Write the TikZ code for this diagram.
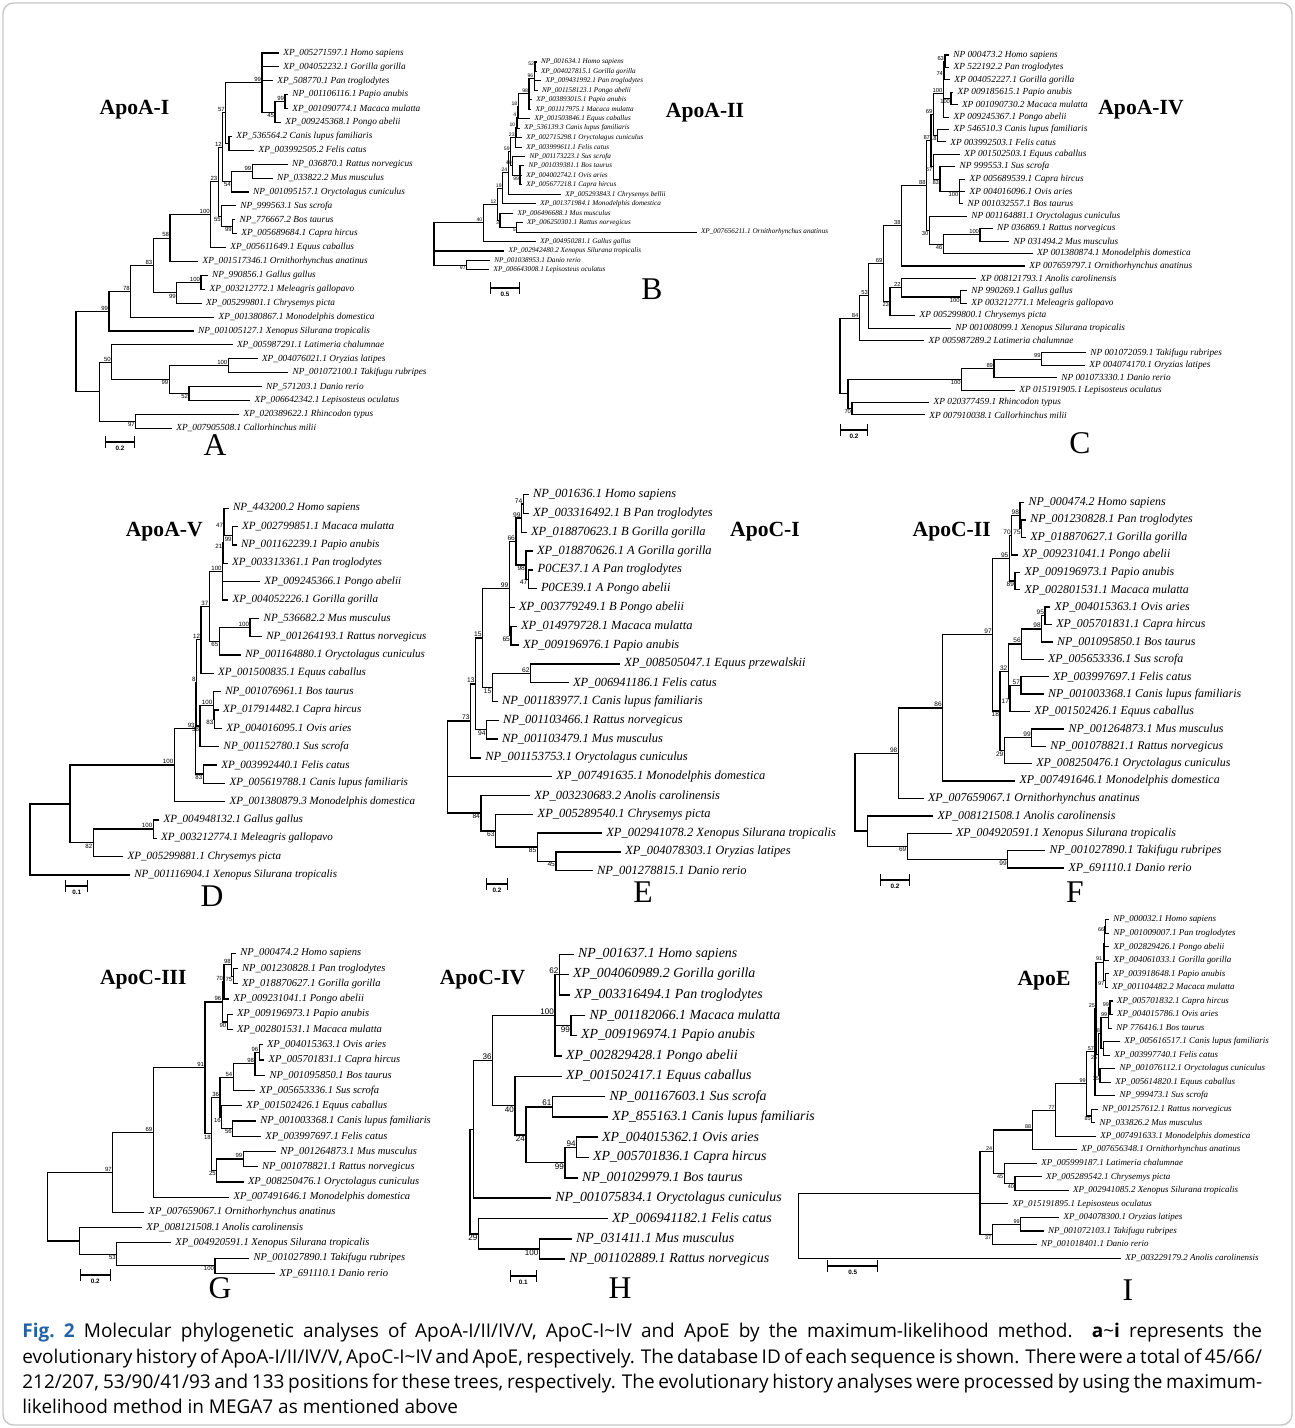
\documentclass[tikz,border=0pt]{standalone}
\usepackage{fontspec}
\setmainfont{Liberation Serif}
\setsansfont{Liberation Sans}
\newfontfamily\capfont{Open Sans}
\usetikzlibrary{calc}
\definecolor{figblue}{RGB}{35,98,165}

\tikzset{
  br/.style={line width=0.6pt},
  lab/.style={anchor=west, inner sep=0pt, font=\itshape},
  bs/.style={inner sep=0.4pt, font=\sffamily},
  ba/.style={anchor=south east},
  bb/.style={anchor=north east},
  ttl/.style={font=\fontsize{12.3}{14}\selectfont\bfseries},
  panel/.style={anchor=north, inner sep=0pt, font=\fontsize{18}{20}\selectfont},
  sb/.style={|-|, line width=0.6pt},
  sbl/.style={anchor=north, inner sep=0pt, yshift=-2pt, font=\fontsize{3.6}{4}\selectfont\sffamily\bfseries}
}

% leaf: name, text x, row, label
\newcommand\taxon[4]{%
  \coordinate (#1) at ({#2-4},{\yz+#3*\dy});
  \node[lab] (#1Tx) at ({#2},{\yz+#3*\dy}) {#4};}
% clade: name, x, first child, last child, bootstrap, label side
\newcommand\clade[6]{%
  \path (#3) -- (#4) coordinate[pos=0.5] (#1Mc);
  \coordinate (#1Xc) at (#2,0);
  \coordinate (#1) at (#1Xc |- #1Mc);
  \draw[br] (#3) -| (#1) |- (#4);
  \node[bs,#6] (#1Lb) at (#1) {#5};}
\newcommand\cladeadd[2]{\draw[br] (#1) |- (#2);}
\newcommand\scalebar[5]{%
  \coordinate (#1a) at (#2,#4);
  \coordinate (#1c) at (#3,#4);
  \draw[sb] (#1a) -- (#1c);
  \node[sbl] (#1t) at ($(#1a)!.5!(#1c)$) {#5};}

\begin{document}
\begin{tikzpicture}[x=0.02cm,y=-0.02cm]
\useasboundingbox (0,0) rectangle (1295,1428);
\draw[gray!45, line width=0.8pt, rounded corners=6pt] (3,3) rectangle (1292,1425);

%% A: ApoA-I
\begin{scope}[lab/.append style={font=\fontsize{5.3}{6}\selectfont\itshape},
  bs/.append style={font=\fontsize{3.4}{4}\selectfont\sffamily}]
\def\yz{53}\def\dy{13.9}
\taxon{aHomo}{283}{0}{XP\_005271597.1 Homo sapiens}
\taxon{aGor}{283}{1}{XP\_004052232.1 Gorilla gorilla}
\taxon{aPan}{277}{2}{XP\_508770.1 Pan troglodytes}
\taxon{aPap}{292}{3}{NP\_001106116.1 Papio anubis}
\taxon{aMac}{292}{4}{XP\_001090774.1 Macaca mulatta}
\taxon{aPon}{285}{5}{XP\_009245368.1 Pongo abelii}
\taxon{aCan}{236}{6}{XP\_536564.2 Canis lupus familiaris}
\taxon{aFel}{258.3}{7}{XP\_003992505.2 Felis catus}
\taxon{aRat}{291.7}{8}{NP\_036870.1 Rattus norvegicus}
\taxon{aMus}{276.7}{9}{NP\_033822.2 Mus musculus}
\taxon{aOry}{252.7}{10}{NP\_001095157.1 Oryctolagus cuniculus}
\taxon{aSus}{240}{11}{NP\_999563.1 Sus scrofa}
\taxon{aBos}{239.3}{12}{NP\_776667.2 Bos taurus}
\taxon{aCap}{241}{13}{XP\_005689684.1 Capra hircus}
\taxon{aEqu}{230}{14}{XP\_005611649.1 Equus caballus}
\taxon{aOrn}{202.3}{15}{XP\_001517346.1 Ornithorhynchus anatinus}
\taxon{aGal}{211.7}{16}{NP\_990856.1 Gallus gallus}
\taxon{aMel}{209.3}{17}{XP\_003212772.1 Meleagris gallopavo}
\taxon{aChr}{205.7}{18}{XP\_005299801.1 Chrysemys picta}
\taxon{aMon}{218.3}{19}{XP\_001380867.1 Monodelphis domestica}
\taxon{aXen}{197.7}{20}{NP\_001005127.1 Xenopus Silurana tropicalis}
\taxon{aLat}{236.7}{21}{XP\_005987291.1 Latimeria chalumnae}
\taxon{aOzl}{261.7}{22}{XP\_004076021.1 Oryzias latipes}
\taxon{aTak}{292.3}{23}{NP\_001072100.1 Takifugu rubripes}
\taxon{aDan}{265.7}{24}{NP\_571203.1 Danio rerio}
\taxon{aLep}{254.3}{25}{XP\_006642342.1 Lepisosteus oculatus}
\taxon{aRhi}{243.3}{26}{XP\_020389622.1 Rhincodon typus}
\taxon{aCal}{176}{27}{XP\_007905508.1 Callorhinchus milii}
\clade{aPM}{285}{aPap}{aMac}{99}{ba}
\clade{a45}{275}{aPM}{aPon}{45}{bb}
\clade{a99p}{262}{aHomo}{a45}{99}{ba}
\cladeadd{a99p}{aGor}\cladeadd{a99p}{aPan}
\clade{aCF}{229}{aCan}{aFel}{}{ba}
\clade{a57}{225.7}{a99p}{aCF}{57}{ba}
\clade{a99r}{252.3}{aRat}{aMus}{99}{ba}
\clade{a54}{231.7}{a99r}{aOry}{54}{bb}
\clade{a12}{222.7}{a57}{a54}{12}{ba}
\clade{a99b}{232.7}{aBos}{aCap}{99}{bb}
\clade{a55}{221.7}{aSus}{a99b}{55}{bb}
\clade{a23}{218.3}{a12}{a55}{23}{ba}
\clade{a100}{210.7}{a23}{aEqu}{100}{ba}
\clade{a58}{170}{a100}{aOrn}{58}{ba}
\clade{a100g}{201}{aGal}{aMel}{100}{ba}
\clade{a99g}{176.7}{a100g}{aChr}{99}{bb}
\clade{a83}{153.3}{a58}{a99g}{83}{ba}
\clade{a78}{130.7}{a83}{aMon}{78}{ba}
\clade{a99u}{109}{a78}{aXen}{99}{ba}
\clade{a100f}{228.3}{aOzl}{aTak}{100}{ba}
\clade{a52}{189}{aDan}{aLep}{52}{bb}
\clade{aFish}{169.3}{a100f}{a52}{99}{bb}
\clade{a50}{111.7}{aLat}{aFish}{50}{ba}
\clade{a97}{135.7}{aRhi}{aCal}{97}{bb}
\clade{aLow}{99.3}{a50}{a97}{}{ba}
\clade{aRoot}{76}{a99u}{aLow}{}{ba}
\end{scope}
\node[ttl] (aTitle) at (134.5,110) {ApoA-I};
\scalebar{aBar}{105}{135}{442}{0.2}
\node[panel] (aPanel) at (215,434) {A};

%% B: ApoA-II
\begin{scope}[lab/.append style={font=\fontsize{4.1}{5}\selectfont\itshape},
  bs/.append style={font=\fontsize{2.9}{3.5}\selectfont\sffamily}]
\def\yz{62}\def\dy{9.45}
\taxon{bHomo}{540.7}{0}{NP\_001634.1 Homo sapiens}
\taxon{bGor}{540.7}{1}{XP\_004027815.1 Gorilla gorilla}
\taxon{bPan}{545.3}{2}{XP\_009431992.1 Pan troglodytes}
\taxon{bPon}{541.7}{3}{NP\_001158123.1 Pongo abelii}
\taxon{bPap}{536}{4}{XP\_003893015.1 Papio anubis}
\taxon{bMac}{535.3}{5}{XP\_001117975.1 Macaca mulatta}
\taxon{bEqu}{534.3}{6}{XP\_001503846.1 Equus caballus}
\taxon{bCan}{524}{7}{XP\_536139.3 Canis lupus familiaris}
\taxon{bOry}{526}{8}{XP\_002715298.1 Oryctolagus cuniculus}
\taxon{bFel}{526}{9}{XP\_003999611.1 Felis catus}
\taxon{bSus}{529.3}{10}{NP\_001173223.1 Sus scrofa}
\taxon{bBos}{528.3}{11}{NP\_001039381.1 Bos taurus}
\taxon{bOvi}{526}{12}{XP\_004002742.1 Ovis aries}
\taxon{bCap}{526}{13}{XP\_005677218.1 Capra hircus}
\taxon{bChr}{565}{14}{XP\_005293843.1 Chrysemys bellii}
\taxon{bMon}{540}{15}{XP\_001371984.1 Monodelphis domestica}
\taxon{bMus}{517.3}{16}{XP\_006496688.1 Mus musculus}
\taxon{bRat}{526.7}{17}{XP\_006250301.1 Rattus norvegicus}
\taxon{bOrn}{700.7}{18}{XP\_007656211.1 Ornithorhynchus anatinus}
\taxon{bGal}{540}{19}{XP\_004950281.1 Gallus gallus}
\taxon{bXen}{508.3}{20}{XP\_002942480.2 Xenopus Silurana tropicalis}
\taxon{bDan}{494}{21}{NP\_001038953.1 Danio rerio}
\taxon{bLep}{493.3}{22}{XP\_006643008.1 Lepisosteus oculatus}
\clade{b52}{535}{bHomo}{bGor}{52}{ba}
\clade{b96}{534.3}{b52}{bPon}{96}{ba}
\cladeadd{b96}{bPan}
\clade{b98}{529}{b96}{bMac}{98}{ba}
\cladeadd{b98}{bPap}
\clade{b18}{518.3}{b98}{bEqu}{18}{ba}
\clade{b4}{517.3}{b18}{bCan}{4}{ba}
\clade{b10}{516.3}{b4}{bOry}{10}{ba}
\clade{b23}{515.7}{b10}{bFel}{23}{ba}
\clade{b99}{520}{bBos}{bCap}{99}{bb}
\cladeadd{b99}{bOvi}
\clade{b40b}{512.7}{bSus}{b99}{40}{ba}
\clade{b59}{510.7}{b23}{b40b}{59}{ba}
\clade{b24}{508.3}{b59}{bChr}{24}{ba}
\clade{b19}{502.7}{b24}{bMon}{19}{ba}
\clade{b5}{516.7}{bRat}{bOrn}{5}{bb}
\clade{b3}{500}{bMus}{b5}{3}{bb}
\clade{b12}{497.3}{b19}{b3}{12}{ba}
\clade{b40}{483.3}{b12}{bGal}{40}{ba}
\clade{b97}{466.7}{bDan}{bLep}{97}{bb}
\clade{bRoot}{434}{b40}{b97}{}{ba}
\cladeadd{bRoot}{bXen}
\end{scope}
\node[ttl] (bTitle) at (705,113) {ApoA-II};
\scalebar{bBar}{490}{520}{288}{0.5}
\node[panel] (bPanel) at (652,278) {B};

%% C: ApoA-IV
\begin{scope}[lab/.append style={font=\fontsize{5.3}{6}\selectfont\itshape},
  bs/.append style={font=\fontsize{3.3}{4}\selectfont\sffamily}]
\def\yz{55}\def\dy{12.41}
\taxon{cHomo}{953}{0}{NP 000473.2 Homo sapiens}
\taxon{cPan}{953.3}{1}{XP 522192.2 Pan troglodytes}
\taxon{cGor}{954}{2}{XP 004052227.1 Gorilla gorilla}
\taxon{cPap}{957.3}{3}{XP 009185615.1 Papio anubis}
\taxon{cMac}{961.7}{4}{XP 001090730.2 Macaca mulatta}
\taxon{cPon}{953.3}{5}{XP 009245367.1 Pongo abelii}
\taxon{cCan}{953.3}{6}{XP 546510.3 Canis lupus familiaris}
\taxon{cFel}{950}{7}{XP 003992503.1 Felis catus}
\taxon{cEqu}{964}{8}{XP 001502503.1 Equus caballus}
\taxon{cSus}{959.3}{9}{NP 999553.1 Sus scrofa}
\taxon{cCap}{969.3}{10}{XP 005689539.1 Capra hircus}
\taxon{cOvi}{969.3}{11}{XP 004016096.1 Ovis aries}
\taxon{cBos}{967.3}{12}{NP 001032557.1 Bos taurus}
\taxon{cOry}{971}{13}{NP 001164881.1 Oryctolagus cuniculus}
\taxon{cRat}{996.7}{14}{NP 036869.1 Rattus norvegicus}
\taxon{cMus}{1013.3}{15}{NP 031494.2 Mus musculus}
\taxon{cMon}{1036.7}{16}{XP 001380874.1 Monodelphis domestica}
\taxon{cOrn}{1029}{17}{XP 007659797.1 Ornithorhynchus anatinus}
\taxon{cAno}{980}{18}{XP 008121793.1 Anolis carolinensis}
\taxon{cGal}{971}{19}{NP 990269.1 Gallus gallus}
\taxon{cMel}{971}{20}{XP 003212771.1 Meleagris gallopavo}
\taxon{cChr}{919.3}{21}{XP 005299800.1 Chrysemys picta}
\taxon{cXen}{955}{22}{NP 001008099.1 Xenopus Silurana tropicalis}
\taxon{cLat}{928.3}{23}{XP 005987289.2 Latimeria chalumnae}
\taxon{cTak}{1090}{24}{NP 001072059.1 Takifugu rubripes}
\taxon{cOzl}{1089}{25}{XP 004074170.1 Oryzias latipes}
\taxon{cDan}{1061}{26}{NP 001073330.1 Danio rerio}
\taxon{cLep}{1019}{27}{XP 015191905.1 Lepisosteus oculatus}
\taxon{cRhi}{933.3}{28}{XP 020377459.1 Rhincodon typus}
\taxon{cCal}{929}{29}{XP 007910038.1 Callorhinchus milii}
\clade{c63}{945}{cHomo}{cPan}{63}{ba}
\clade{c74}{944}{c63}{cGor}{74}{bb}
\clade{c100pm}{951}{cPap}{cMac}{100}{bb}
\clade{c100p}{943.3}{c74}{cPon}{100}{ba}
\cladeadd{c100p}{c100pm}
\clade{cCF}{937.7}{cCan}{cFel}{18}{bb}
\clade{c69}{933.3}{c100p}{cCF}{69}{ba}
\clade{c100c}{959.3}{cCap}{cBos}{100}{bb}
\cladeadd{c100c}{cOvi}
\clade{c83}{940}{cSus}{c100c}{83}{bb}
\clade{c57}{933.3}{cEqu}{c83}{57}{bb}
\clade{c87}{931}{c69}{c57}{87}{ba}
\clade{c100r}{980}{cRat}{cMus}{100}{ba}
\clade{c46}{943.3}{c100r}{cMon}{46}{bb}
\clade{c30}{929.3}{cOry}{c46}{30}{bb}
\clade{c88}{926.7}{c87}{c30}{88}{ba}
\clade{c38}{901.7}{c88}{cOrn}{38}{ba}
\clade{c100g}{960.7}{cGal}{cMel}{100}{bb}
\clade{c22}{901.7}{cAno}{c100g}{22}{ba}
\clade{c23}{890}{c22}{cChr}{23}{bb}
\clade{c69b}{883.3}{c38}{c23}{69}{ba}
\clade{c53}{868.9}{c69b}{cXen}{53}{ba}
\clade{c84}{859.3}{c53}{cLat}{84}{ba}
\clade{c99}{1041.7}{cTak}{cOzl}{99}{ba}
\clade{c89}{994}{c99}{cDan}{89}{ba}
\clade{c100f}{961.7}{c89}{cLep}{100}{bb}
\clade{c70}{852}{cRhi}{cCal}{70}{bb}
\clade{cBot}{848}{c100f}{c70}{}{ba}
\clade{cRoot}{840}{c84}{cBot}{}{ba}
\end{scope}
\node[ttl] (cTitle) at (1141,110) {ApoA-IV};
\scalebar{cBar}{840}{868}{430}{0.2}
\node[panel] (cPanel) at (1080,432) {C};

%% D: ApoA-V
\begin{scope}[br/.append style={line width=0.7pt},
  lab/.append style={font=\fontsize{6.3}{7}\selectfont\itshape},
  bs/.append style={font=\fontsize{3.5}{4}\selectfont\sffamily}]
\def\yz{508.3}\def\dy{18.33}
\taxon{dHomo}{232.7}{0}{NP\_443200.2 Homo sapiens}
\taxon{dMac}{241.7}{1}{XP\_002799851.1 Macaca mulatta}
\taxon{dPap}{240.7}{2}{NP\_001162239.1 Papio anubis}
\taxon{dPan}{231.7}{3}{XP\_003313361.1 Pan troglodytes}
\taxon{dPon}{264}{4}{XP\_009245366.1 Pongo abelii}
\taxon{dGor}{232.3}{5}{XP\_004052226.1 Gorilla gorilla}
\taxon{dMus}{263.3}{6}{NP\_536682.2 Mus musculus}
\taxon{dRat}{266}{7}{NP\_001264193.1 Rattus norvegicus}
\taxon{dOry}{245}{8}{NP\_001164880.1 Oryctolagus cuniculus}
\taxon{dEqu}{217.7}{9}{XP\_001500835.1 Equus caballus}
\taxon{dBos}{225}{10}{NP\_001076961.1 Bos taurus}
\taxon{dCap}{222.7}{11}{XP\_017914482.1 Capra hircus}
\taxon{dOvi}{226}{12}{XP\_004016095.1 Ovis aries}
\taxon{dSus}{223.3}{13}{NP\_001152780.1 Sus scrofa}
\taxon{dFel}{221}{14}{XP\_003992440.1 Felis catus}
\taxon{dCan}{229.3}{15}{XP\_005619788.1 Canis lupus familiaris}
\taxon{dMon}{229.3}{16}{XP\_001380879.3 Monodelphis domestica}
\taxon{dGal}{163.3}{17}{XP\_004948132.1 Gallus gallus}
\taxon{dMel}{160.7}{18}{XP\_003212774.1 Meleagris gallopavo}
\taxon{dChr}{127.3}{19}{XP\_005299881.1 Chrysemys picta}
\taxon{dXen}{134}{20}{NP\_001116904.1 Xenopus Silurana tropicalis}
\clade{dMP}{232.7}{dMac}{dPap}{99}{bb}
\clade{d47}{224}{dHomo}{dMP}{47}{bb}
\clade{d21}{223.3}{d47}{dPan}{21}{bb}
\clade{d100}{222.7}{d21}{dGor}{100}{ba}
\cladeadd{d100}{dPon}
\clade{d100m}{250}{dMus}{dRat}{100}{ba}
\clade{d65}{219.3}{d100m}{dOry}{65}{bb}
\clade{d37}{209.3}{d100}{d65}{37}{ba}
\clade{d12}{201}{d37}{dEqu}{12}{ba}
\clade{d83}{214.3}{dCap}{dOvi}{83}{bb}
\clade{d100b}{213.3}{dBos}{d83}{100}{ba}
\clade{d38}{200}{d100b}{dSus}{38}{bb}
\clade{d8}{196.7}{d12}{d38}{8}{ba}
\clade{d83f}{203.3}{dFel}{dCan}{83}{bb}
\clade{d93}{195.7}{d8}{d83f}{93}{ba}
\clade{d100d}{174.3}{d93}{dMon}{100}{ba}
\clade{d100g}{153.3}{dGal}{dMel}{100}{ba}
\clade{d82}{93.3}{d100g}{dChr}{82}{bb}
\clade{dMid}{70}{d100d}{d82}{}{ba}
\clade{dRoot}{30}{dMid}{dXen}{}{ba}
\end{scope}
\node[ttl] (dTitle) at (164.3,531.7) {ApoA-V};
\scalebar{dBar}{65}{88.3}{886}{0.1}
\node[panel] (dPanel) at (212,885) {D};

%% E: ApoC-I
\begin{scope}[br/.append style={line width=0.85pt},
  lab/.append style={font=\fontsize{7.1}{8}\selectfont\itshape},
  bs/.append style={font=\fontsize{3.8}{4.5}\selectfont\sffamily}]
\def\yz{494.7}\def\dy{18.8}
\taxon{eHomo}{532.7}{0}{NP\_001636.1 Homo sapiens}
\taxon{ePanB}{532.7}{1}{XP\_003316492.1 B Pan troglodytes}
\taxon{eGorB}{530.7}{2}{XP\_018870623.1 B Gorilla gorilla}
\taxon{eGorA}{536.7}{3}{XP\_018870626.1 A Gorilla gorilla}
\taxon{ePanA}{537.3}{4}{P0CE37.1 A Pan troglodytes}
\taxon{ePonA}{540.7}{5}{P0CE39.1 A Pongo abelii}
\taxon{ePonB}{518.7}{6}{XP\_003779249.1 B Pongo abelii}
\taxon{eMac}{520.7}{7}{XP\_014979728.1 Macaca mulatta}
\taxon{ePap}{522.7}{8}{XP\_009196976.1 Papio anubis}
\taxon{eEqu}{624}{9}{XP\_008505047.1 Equus przewalskii}
\taxon{eFel}{572.7}{10}{XP\_006941186.1 Felis catus}
\taxon{eCan}{501.7}{11}{NP\_001183977.1 Canis lupus familiaris}
\taxon{eRat}{502.7}{12}{NP\_001103466.1 Rattus norvegicus}
\taxon{eMus}{501.7}{13}{NP\_001103479.1 Mus musculus}
\taxon{eOry}{485}{14}{NP\_001153753.1 Oryctolagus cuniculus}
\taxon{eMon}{556}{15}{XP\_007491635.1 Monodelphis domestica}
\taxon{eAno}{534}{16}{XP\_003230683.2 Anolis carolinensis}
\taxon{eChr}{537.3}{17}{XP\_005289540.1 Chrysemys picta}
\taxon{eXen}{606}{18}{XP\_002941078.2 Xenopus Silurana tropicalis}
\taxon{eOzl}{625}{19}{XP\_004078303.1 Oryzias latipes}
\taxon{eDan}{596.7}{20}{NP\_001278815.1 Danio rerio}
\clade{e74}{523.3}{eHomo}{ePanB}{74}{ba}
\clade{e99}{521.7}{e74}{eGorB}{99}{ba}
\clade{e47}{528.3}{ePanA}{ePonA}{47}{bb}
\clade{e98}{526}{eGorA}{e47}{98}{bb}
\clade{e66}{516}{e99}{e98}{66}{ba}
\clade{e65}{511}{eMac}{ePap}{65}{bb}
\clade{e99b}{509.3}{e66}{e65}{99}{ba}
\cladeadd{e99b}{ePonB}
\clade{e62}{530.7}{eEqu}{eFel}{62}{ba}
\clade{e15b}{492.3}{e62}{eCan}{15}{bb}
\clade{e15}{482.7}{e99b}{e15b}{15}{ba}
\clade{e94}{486.7}{eRat}{eMus}{94}{bb}
\clade{e13}{475.7}{e15}{e94}{13}{ba}
\clade{e73}{470.7}{e13}{eOry}{73}{ba}
\clade{e45}{556}{eOzl}{eDan}{45}{bb}
\clade{e85}{537.3}{eXen}{e45}{85}{bb}
\clade{e63}{495.7}{eChr}{e85}{63}{bb}
\clade{e84}{481}{eAno}{e63}{84}{bb}
\clade{eRoot}{447.3}{e73}{e84}{}{ba}
\cladeadd{eRoot}{eMon}
\end{scope}
\node[ttl] (eTitle) at (765,531.7) {ApoC-I};
\scalebar{eBar}{486}{508}{884}{0.2}
\node[panel] (ePanel) at (643,881) {E};

%% F: ApoC-II
\begin{scope}[br/.append style={line width=0.75pt},
  lab/.append style={font=\fontsize{6.8}{8}\selectfont\itshape},
  bs/.append style={font=\fontsize{3.7}{4.5}\selectfont\sffamily}]
\def\yz{502.7}\def\dy{17.4}
\taxon{fHomo}{1028.3}{0}{NP\_000474.2 Homo sapiens}
\taxon{fPan}{1030}{1}{NP\_001230828.1 Pan troglodytes}
\taxon{fGor}{1030}{2}{XP\_018870627.1 Gorilla gorilla}
\taxon{fPon}{1022.3}{3}{XP\_009231041.1 Pongo abelii}
\taxon{fPap}{1024.3}{4}{XP\_009196973.1 Papio anubis}
\taxon{fMac}{1024.3}{5}{XP\_002801531.1 Macaca mulatta}
\taxon{fOvi}{1054.3}{6}{XP\_004015363.1 Ovis aries}
\taxon{fCap}{1056}{7}{XP\_005701831.1 Capra hircus}
\taxon{fBos}{1056.7}{8}{NP\_001095850.1 Bos taurus}
\taxon{fSus}{1047.7}{9}{XP\_005653336.1 Sus scrofa}
\taxon{fFel}{1052.7}{10}{XP\_003997697.1 Felis catus}
\taxon{fCan}{1047.7}{11}{NP\_001003368.1 Canis lupus familiaris}
\taxon{fEqu}{1034}{12}{XP\_001502426.1 Equus caballus}
\taxon{fMus}{1068.3}{13}{NP\_001264873.1 Mus musculus}
\taxon{fRat}{1050}{14}{NP\_001078821.1 Rattus norvegicus}
\taxon{fOry}{1036}{15}{XP\_008250476.1 Oryctolagus cuniculus}
\taxon{fMon}{1019.3}{16}{XP\_007491646.1 Monodelphis domestica}
\taxon{fOrn}{927.7}{17}{XP\_007659067.1 Ornithorhynchus anatinus}
\taxon{fAno}{937.3}{18}{XP\_008121508.1 Anolis carolinensis}
\taxon{fXen}{955.7}{19}{XP\_004920591.1 Xenopus Silurana tropicalis}
\taxon{fTak}{1049.3}{20}{NP\_001027890.1 Takifugu rubripes}
\taxon{fDan}{1068.3}{21}{XP\_691110.1 Danio rerio}
\clade{f75}{1021.7}{fPan}{fGor}{75}{bb}
\clade{f98}{1020}{fHomo}{f75}{98}{ba}
\clade{f70}{1011.7}{f98}{fPon}{70}{ba}
\clade{f89}{1015}{fPap}{fMac}{89}{bb}
\clade{f95}{1009.3}{f70}{f89}{95}{ba}
\clade{f95s}{1045}{fOvi}{fCap}{95}{ba}
\clade{f98c}{1041.7}{f95s}{fBos}{98}{ba}
\clade{f56}{1021.7}{f98c}{fSus}{56}{ba}
\clade{f57}{1021}{fFel}{fCan}{57}{ba}
\clade{f17}{1010}{f57}{fEqu}{17}{bb}
\clade{f32}{1008.3}{f56}{f17}{32}{ba}
\clade{f99}{1031.7}{fMus}{fRat}{99}{ba}
\clade{f29}{1004.3}{f99}{fOry}{29}{bb}
\clade{f18}{1000}{f32}{f29}{18}{bb}
\clade{f97}{992.7}{f95}{f18}{97}{ba}
\clade{f86}{942.7}{f97}{fMon}{86}{ba}
\clade{f98r}{898.3}{f86}{fOrn}{98}{ba}
\clade{f99f}{1007.7}{fTak}{fDan}{99}{bb}
\clade{f69}{907.3}{fXen}{f99f}{69}{bb}
\clade{fLow}{867.3}{fAno}{f69}{}{ba}
\clade{fRoot}{855}{f98r}{fLow}{}{ba}
\end{scope}
\node[ttl] (fTitle) at (951.7,531.7) {ApoC-II};
\scalebar{fBar}{880}{910}{880}{0.2}
\node[panel] (fPanel) at (1075,881) {F};

%% G: ApoC-III
\begin{scope}[br/.append style={line width=0.7pt},
  lab/.append style={font=\fontsize{6.0}{7}\selectfont\itshape},
  bs/.append style={font=\fontsize{3.4}{4}\selectfont\sffamily}]
\def\yz{953.3}\def\dy{15.24}
\taxon{gHomo}{240}{0}{NP\_000474.2 Homo sapiens}
\taxon{gPan}{241.7}{1}{NP\_001230828.1 Pan troglodytes}
\taxon{gGor}{241.7}{2}{XP\_018870627.1 Gorilla gorilla}
\taxon{gPon}{233.3}{3}{XP\_009231041.1 Pongo abelii}
\taxon{gPap}{236.7}{4}{XP\_009196973.1 Papio anubis}
\taxon{gMac}{236.7}{5}{XP\_002801531.1 Macaca mulatta}
\taxon{gOvi}{266.7}{6}{XP\_004015363.1 Ovis aries}
\taxon{gCap}{268.3}{7}{XP\_005701831.1 Capra hircus}
\taxon{gBos}{269.3}{8}{NP\_001095850.1 Bos taurus}
\taxon{gSus}{259.3}{9}{XP\_005653336.1 Sus scrofa}
\taxon{gEqu}{246}{10}{XP\_001502426.1 Equus caballus}
\taxon{gCan}{260}{11}{NP\_001003368.1 Canis lupus familiaris}
\taxon{gFel}{265}{12}{XP\_003997697.1 Felis catus}
\taxon{gMus}{280}{13}{NP\_001264873.1 Mus musculus}
\taxon{gRat}{261.7}{14}{NP\_001078821.1 Rattus norvegicus}
\taxon{gOry}{247.7}{15}{XP\_008250476.1 Oryctolagus cuniculus}
\taxon{gMon}{233.3}{16}{XP\_007491646.1 Monodelphis domestica}
\taxon{gOrn}{148.3}{17}{XP\_007659067.1 Ornithorhynchus anatinus}
\taxon{gAno}{146}{18}{XP\_008121508.1 Anolis carolinensis}
\taxon{gXen}{175}{19}{XP\_004920591.1 Xenopus Silurana tropicalis}
\taxon{gTak}{253.3}{20}{NP\_001027890.1 Takifugu rubripes}
\taxon{gDan}{279.3}{21}{XP\_691110.1 Danio rerio}
\clade{g75}{233.3}{gPan}{gGor}{75}{bb}
\clade{g98}{231.7}{gHomo}{g75}{98}{ba}
\clade{g70}{224}{g98}{gPon}{70}{ba}
\clade{g90}{227.3}{gPap}{gMac}{90}{bb}
\clade{g96}{222.3}{g70}{g90}{96}{ba}
\clade{g96s}{259.3}{gOvi}{gCap}{96}{ba}
\clade{g98c}{255}{g96s}{gBos}{98}{ba}
\clade{g54}{233.3}{g98c}{gSus}{54}{ba}
\clade{g56}{232.7}{gCan}{gFel}{56}{bb}
\clade{g16}{221.7}{gEqu}{g56}{16}{bb}
\clade{g36}{220}{g54}{g16}{36}{ba}
\clade{g99}{243.3}{gMus}{gRat}{99}{ba}
\clade{g25}{216.7}{g99}{gOry}{25}{bb}
\clade{g18}{211.7}{g36}{g25}{18}{bb}
\clade{g91}{205}{g96}{g18}{91}{ba}
\clade{g69}{153.3}{g91}{gMon}{69}{ba}
\clade{g97}{112.7}{g69}{gOrn}{97}{ba}
\clade{g100f}{215}{gTak}{gDan}{100}{bb}
\clade{g53}{116.7}{gXen}{g100f}{53}{bb}
\clade{gLow}{79.3}{gAno}{g53}{}{ba}
\clade{gRoot}{47.3}{g97}{gLow}{}{ba}
\end{scope}
\node[ttl] (gTitle) at (143.3,979.3) {ApoC-III};
\scalebar{gBar}{80}{110.7}{1275}{0.2}
\node[panel] (gPanel) at (220,1277) {G};

%% H: ApoC-IV
\begin{scope}[br/.append style={line width=0.9pt},
  lab/.append style={font=\fontsize{7.9}{9}\selectfont\itshape},
  bs/.append style={font=\fontsize{4.6}{5}\selectfont\sffamily}]
\def\yz{954.3}\def\dy{20.33}
\taxon{hHomo}{577.7}{0}{NP\_001637.1 Homo sapiens}
\taxon{hGor}{572.7}{1}{XP\_004060989.2 Gorilla gorilla}
\taxon{hPan}{574.3}{2}{XP\_003316494.1 Pan troglodytes}
\taxon{hMac}{589.3}{3}{NP\_001182066.1 Macaca mulatta}
\taxon{hPap}{580.7}{4}{XP\_009196974.1 Papio anubis}
\taxon{hPon}{565.7}{5}{XP\_002829428.1 Pongo abelii}
\taxon{hEqu}{565.7}{6}{XP\_001502417.1 Equus caballus}
\taxon{hSus}{609.3}{7}{NP\_001167603.1 Sus scrofa}
\taxon{hCan}{611.7}{8}{XP\_855163.1 Canis lupus familiaris}
\taxon{hOvi}{601.7}{9}{XP\_004015362.1 Ovis aries}
\taxon{hCap}{592.7}{10}{XP\_005701836.1 Capra hircus}
\taxon{hBos}{581.7}{11}{NP\_001029979.1 Bos taurus}
\taxon{hOry}{555}{12}{NP\_001075834.1 Oryctolagus cuniculus}
\taxon{hFel}{611.7}{13}{XP\_006941182.1 Felis catus}
\taxon{hMus}{575.7}{14}{NP\_031411.1 Mus musculus}
\taxon{hRat}{569}{15}{NP\_001102889.1 Rattus norvegicus}
\clade{h62}{559.3}{hHomo}{hPan}{62}{ba}
\cladeadd{h62}{hGor}
\clade{h99}{571}{hMac}{hPap}{99}{bb}
\clade{h100}{555}{h62}{hPon}{100}{ba}
\cladeadd{h100}{h99}
\clade{h61}{552.3}{hSus}{hCan}{61}{ba}
\clade{h94}{576.7}{hOvi}{hCap}{94}{ba}
\clade{h99b}{565}{h94}{hBos}{99}{bb}
\clade{h24}{526}{h61}{h99b}{24}{bb}
\clade{h40}{515}{hEqu}{h24}{40}{bb}
\clade{h36}{492.7}{h100}{h40}{36}{ba}
\clade{hA}{473.3}{h36}{hOry}{}{ba}
\clade{h100m}{539.3}{hMus}{hRat}{100}{bb}
\clade{h29}{478.3}{hFel}{h100m}{29}{bb}
\clade{hRoot}{470}{hA}{h29}{}{ba}
\end{scope}
\node[ttl] (hTitle) at (482.5,980) {ApoC-IV};
\scalebar{hBar}{510}{536.7}{1276}{0.1}
\node[panel] (hPanel) at (620,1277) {H};

%% I: ApoE
\begin{scope}[lab/.append style={font=\fontsize{5.1}{6}\selectfont\itshape},
  bs/.append style={font=\fontsize{3.1}{4}\selectfont\sffamily}]
\def\yz{919.8}\def\dy{13.53}
\taxon{iHomo}{1113}{0}{NP\_000032.1 Homo sapiens}
\taxon{iPan}{1113.3}{1}{NP\_001009007.1 Pan troglodytes}
\taxon{iPon}{1113.3}{2}{XP\_002829426.1 Pongo abelii}
\taxon{iGor}{1113.3}{3}{XP\_004061033.1 Gorilla gorilla}
\taxon{iPap}{1112.7}{4}{XP\_003918648.1 Papio anubis}
\taxon{iMac}{1111.7}{5}{XP\_001104482.2 Macaca mulatta}
\taxon{iCap}{1116.7}{6}{XP\_005701832.1 Capra hircus}
\taxon{iOvi}{1116.7}{7}{XP\_004015786.1 Ovis aries}
\taxon{iBos}{1116}{8}{NP 776416.1 Bos taurus}
\taxon{iCan}{1124}{9}{XP\_005616517.1 Canis lupus familiaris}
\taxon{iFel}{1114}{10}{XP\_003997740.1 Felis catus}
\taxon{iOry}{1119.3}{11}{NP\_001076112.1 Oryctolagus cuniculus}
\taxon{iEqu}{1115}{12}{XP\_005614820.1 Equus caballus}
\taxon{iSus}{1119.3}{13}{NP\_999473.1 Sus scrofa}
\taxon{iRat}{1101.7}{14}{NP\_001257612.1 Rattus norvegicus}
\taxon{iMus}{1099.3}{15}{NP\_033826.2 Mus musculus}
\taxon{iMon}{1100}{16}{XP\_007491633.1 Monodelphis domestica}
\taxon{iOrn}{1081}{17}{XP\_007656348.1 Ornithorhynchus anatinus}
\taxon{iLat}{1041}{18}{XP\_005999187.1 Latimeria chalumnae}
\taxon{iChr}{1045.7}{19}{XP\_005289542.1 Chrysemys picta}
\taxon{iXen}{1072.7}{20}{XP\_002941085.2 Xenopus Silurana tropicalis}
\taxon{iLep}{1012.3}{21}{XP\_015191895.1 Lepisosteus oculatus}
\taxon{iOzl}{1063.3}{22}{XP\_004078300.1 Oryzias latipes}
\taxon{iTak}{1047.7}{23}{NP\_001072103.1 Takifugu rubripes}
\taxon{iDan}{1040.7}{24}{NP\_001018401.1 Danio rerio}
\taxon{iAno}{1125}{25}{XP\_003229179.2 Anolis carolinensis}
\clade{i66}{1105.3}{iHomo}{iPan}{66}{bb}
\clade{iP}{1104.7}{i66}{iGor}{}{ba}
\cladeadd{iP}{iPon}
\clade{i97}{1105.3}{iPap}{iMac}{97}{bb}
\clade{i91}{1103.3}{iP}{i97}{91}{ba}
\clade{i99c}{1110}{iCap}{iOvi}{99}{ba}
\clade{i99b}{1108.3}{i99c}{iBos}{99}{ba}
\clade{iCF}{1103.3}{iCan}{iFel}{}{ba}
\clade{i68}{1101}{i99b}{iCF}{68}{ba}
\clade{iOE}{1100}{iOry}{iEqu}{35}{bb}
\clade{i25b}{1098.3}{i68}{iOE}{25}{bb}
\clade{i25}{1096}{i91}{i25b}{25}{ba}
\clade{i57}{1095}{i25}{iSus}{57}{ba}
\clade{i85}{1091.7}{iRat}{iMus}{85}{bb}
\clade{i99}{1086.7}{i57}{i85}{99}{ba}
\clade{i77}{1055.7}{i99}{iMon}{77}{ba}
\clade{i88}{1032.3}{i77}{iOrn}{88}{ba}
\clade{i40}{1015}{iChr}{iXen}{40}{bb}
\clade{i45}{1004.3}{iLat}{i40}{45}{bb}
\clade{i24}{993.3}{i88}{i45}{24}{ba}
\clade{i99f}{1020.7}{iOzl}{iTak}{99}{ba}
\clade{i37}{992.3}{i99f}{iDan}{37}{bb}
\clade{iFish}{980}{i24}{i37}{}{ba}
\cladeadd{iFish}{iLep}
\clade{iRoot}{798.3}{iFish}{iAno}{}{ba}
\end{scope}
\node[ttl] (iTitle) at (1044,981) {ApoE};
\scalebar{iBar}{827.3}{878.3}{1266}{0.5}
\node[panel] (iPanel) at (1128,1279) {I};

%% caption
\node[anchor=north west, inner sep=0pt, text width=24.8cm, align=justify,
  font=\capfont\fontsize{10.8}{14.4}\selectfont] (caption) at (22,1323)
{\textcolor{figblue}{\bfseries Fig.~2} Molecular phylogenetic analyses of ApoA-I/II/IV/V, ApoC-I\textasciitilde IV and ApoE by the maximum-likelihood method. \textbf{a}\textasciitilde\textbf{i} represents the\linebreak
evolutionary history of ApoA-I/II/IV/V, ApoC-I\textasciitilde IV and ApoE, respectively. The database ID of each sequence is shown. There were a total of 45/66/\linebreak
212/207, 53/90/41/93 and 133 positions for these trees, respectively. The evolutionary history analyses were processed by using the maximum-\linebreak
likelihood method in MEGA7 as mentioned above\par};
\end{tikzpicture}
\end{document}
